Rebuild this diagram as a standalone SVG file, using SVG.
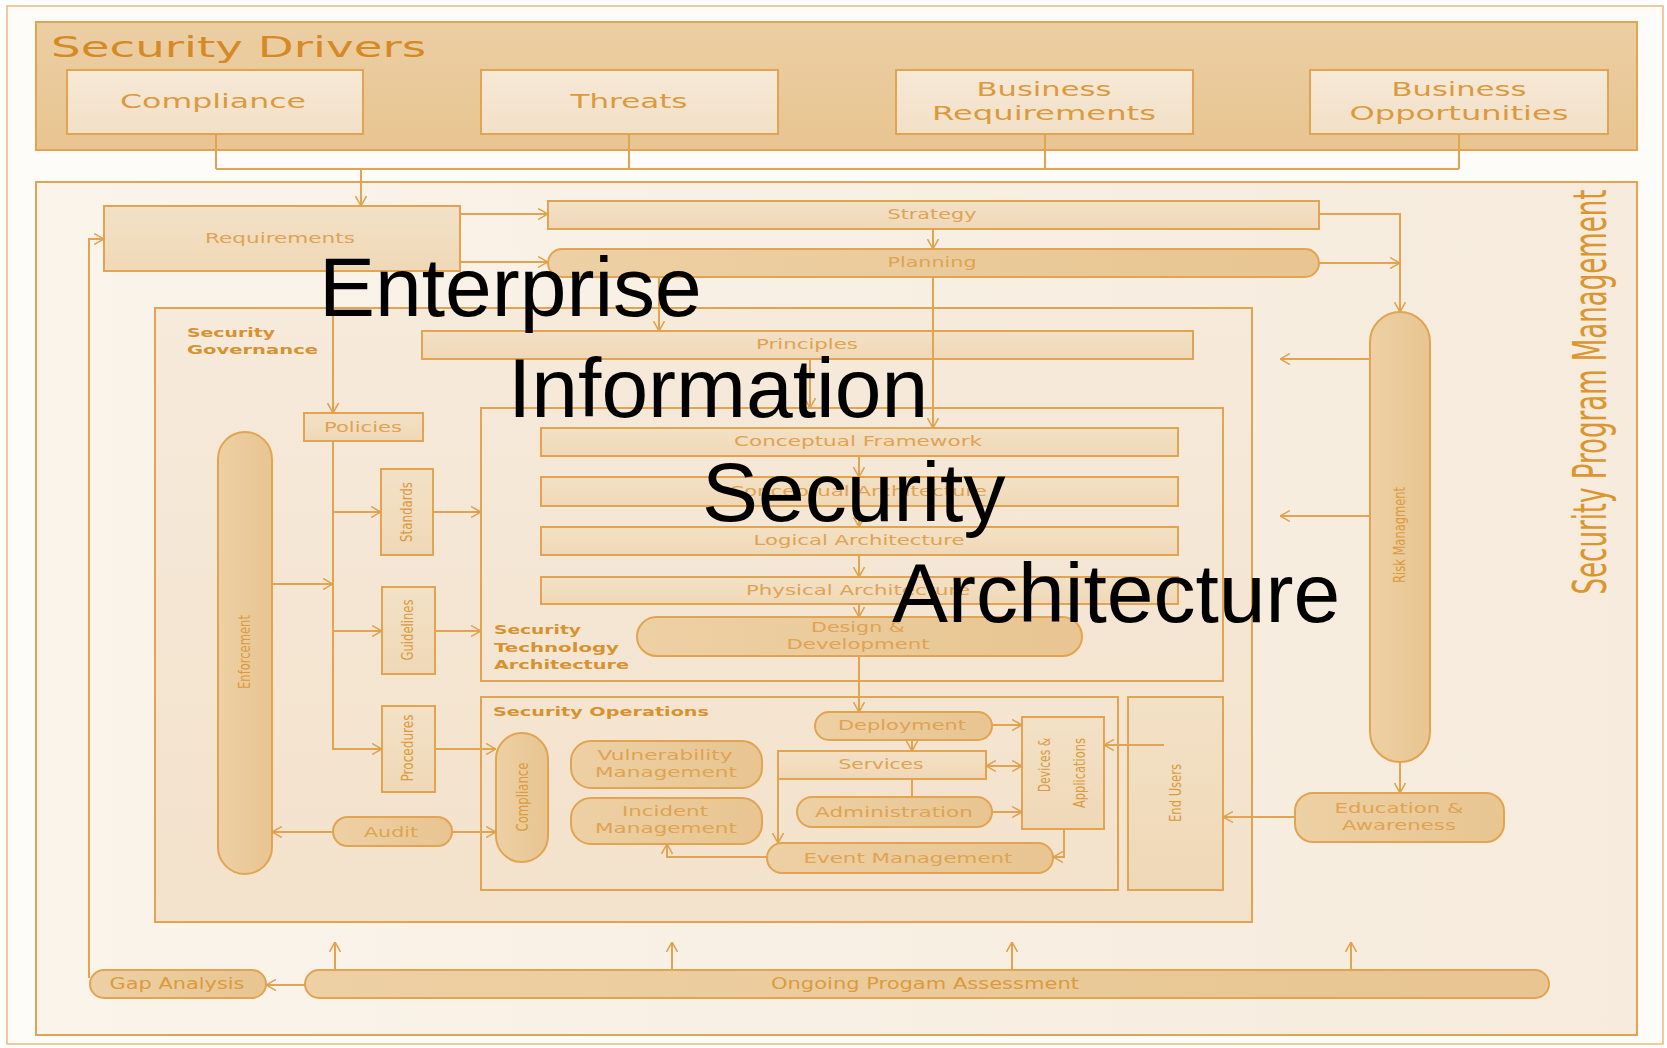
<svg xmlns="http://www.w3.org/2000/svg" width="1667" height="1048" viewBox="0 0 1667 1048">
<defs>
<linearGradient id="gBand" x1="0" y1="0" x2="0" y2="1"><stop offset="0" stop-color="#ebcea3"/><stop offset="1" stop-color="#e8c591"/></linearGradient>
<linearGradient id="gDrv" x1="0" y1="0" x2="0" y2="1"><stop offset="0" stop-color="#f6e9d7"/><stop offset="1" stop-color="#f2e0c6"/></linearGradient>
<linearGradient id="gSpm" x1="0" y1="0" x2="1" y2="0"><stop offset="0" stop-color="#faf4eb"/><stop offset="1" stop-color="#f6ebdc"/></linearGradient>
<linearGradient id="gGov" x1="0" y1="0" x2="0" y2="1"><stop offset="0" stop-color="#f6eadb"/><stop offset="1" stop-color="#f3e2cb"/></linearGradient>
<linearGradient id="gBox" x1="0" y1="0" x2="0" y2="1"><stop offset="0" stop-color="#f3e1c6"/><stop offset="1" stop-color="#efd8b6"/></linearGradient>
<linearGradient id="gPill" x1="0" y1="0" x2="1" y2="0"><stop offset="0" stop-color="#edd0a4"/><stop offset="1" stop-color="#e8c591"/></linearGradient>
<marker id="ah" viewBox="0 0 10 12" refX="10" refY="6" markerWidth="10" markerHeight="12" markerUnits="userSpaceOnUse" orient="auto-start-reverse">
<path d="M0,0.5 L10,6 L0,11.5" fill="none" stroke="#e0a04c" stroke-width="1.5"/>
</marker>
</defs>
<style>
.frm{stroke:#e2a450;stroke-width:2}
.box{fill:url(#gBox);stroke:#e2a450;stroke-width:2}
.pill{fill:url(#gPill);stroke:#e2a450;stroke-width:2}
.ln{fill:none;stroke:#e2a450;stroke-width:2}
.ar{marker-end:url(#ah)}
.t{font-family:"DejaVu Sans",Verdana,sans-serif;fill:#e0a352;text-anchor:middle;font-size:14px}
.h{font-family:"DejaVu Sans",Verdana,sans-serif;fill:#d8922f;font-weight:bold;font-size:13px}
.d{font-family:"DejaVu Sans",Verdana,sans-serif;fill:#dc9a3e;text-anchor:middle;font-size:19px}
.c{font-family:"DejaVu Sans Condensed","Liberation Sans",sans-serif;fill:#dc9a3e;text-anchor:middle;font-size:15px}
.big{font-family:"Liberation Sans",Arial,sans-serif;font-size:84px;fill:#000}
</style>

<rect x="7" y="6" width="1656" height="1038" fill="#fefcf9" stroke="#eab97a" stroke-width="1.5"/>

<g id="security-drivers">
<rect x="36" y="22" width="1601" height="128" fill="url(#gBand)" class="frm"/>
<text x="51" y="57" font-family="DejaVu Sans,Verdana,sans-serif" font-size="28" fill="#d68a25" textLength="375" lengthAdjust="spacingAndGlyphs">Security Drivers</text>
</g>
<g id="drv-compliance">
<rect x="67" y="70" width="296" height="64" fill="url(#gDrv)" class="frm"/>
<text class="d" x="213" y="108" textLength="186" lengthAdjust="spacingAndGlyphs">Compliance</text>
</g>
<g id="drv-threats">
<rect x="481" y="70" width="297" height="64" fill="url(#gDrv)" class="frm"/>
<text class="d" x="629" y="108" textLength="117" lengthAdjust="spacingAndGlyphs">Threats</text>
</g>
<g id="drv-business-requirements">
<rect x="896" y="70" width="297" height="64" fill="url(#gDrv)" class="frm"/>
<text class="d" x="1044" y="96" textLength="135" lengthAdjust="spacingAndGlyphs">Business</text>
<text class="d" x="1044" y="120" textLength="224" lengthAdjust="spacingAndGlyphs">Requirements</text>
</g>
<g id="drv-business-opportunities">
<rect x="1310" y="70" width="298" height="64" fill="url(#gDrv)" class="frm"/>
<text class="d" x="1459" y="96" textLength="135" lengthAdjust="spacingAndGlyphs">Business</text>
<text class="d" x="1459" y="120" textLength="219" lengthAdjust="spacingAndGlyphs">Opportunities</text>
</g>

<g id="security-program-management">
<rect x="36" y="182" width="1601" height="853" fill="url(#gSpm)" class="frm"/>
<text transform="translate(1606,392) rotate(-90)" font-family="DejaVu Sans Condensed,Liberation Sans,sans-serif" font-size="46" fill="#dc962f" text-anchor="middle" textLength="405" lengthAdjust="spacingAndGlyphs">Security Program Management</text>
</g>

<g id="security-governance">
<rect x="155" y="308" width="1097" height="614" fill="url(#gGov)" class="frm"/>
<text class="h" x="187" y="337" textLength="88" lengthAdjust="spacingAndGlyphs">Security</text>
<text class="h" x="187" y="354" textLength="131" lengthAdjust="spacingAndGlyphs">Governance</text>
</g>

<g id="security-technology-architecture">
<rect x="481" y="408" width="742" height="273" fill="none" class="frm"/>
<text class="h" x="494" y="634" textLength="87" lengthAdjust="spacingAndGlyphs">Security</text>
<text class="h" x="494" y="652" textLength="125" lengthAdjust="spacingAndGlyphs">Technology</text>
<text class="h" x="494" y="669" textLength="135" lengthAdjust="spacingAndGlyphs">Architecture</text>
</g>

<g id="security-operations">
<rect x="481" y="697" width="637" height="193" fill="none" class="frm"/>
<text class="h" x="493" y="716" textLength="216" lengthAdjust="spacingAndGlyphs">Security Operations</text>
</g>

<g id="end-users">
<rect x="1128" y="697" width="95" height="193" class="box"/>
<text class="c" transform="translate(1181,793) rotate(-90)" textLength="58" lengthAdjust="spacingAndGlyphs">End Users</text>
</g>

<g id="requirements">
<rect x="104" y="206" width="356" height="65" class="box"/>
<text class="t" x="280" y="243" textLength="150" lengthAdjust="spacingAndGlyphs">Requirements</text>
</g>
<g id="strategy">
<rect x="548" y="201" width="771" height="28" class="box"/>
<text class="t" x="932" y="219" textLength="89" lengthAdjust="spacingAndGlyphs">Strategy</text>
</g>
<g id="planning">
<rect x="548" y="249" width="771" height="28" rx="14" class="pill"/>
<text class="t" x="932" y="267" textLength="89" lengthAdjust="spacingAndGlyphs">Planning</text>
</g>
<g id="principles">
<rect x="422" y="331" width="771" height="28" class="box"/>
<text class="t" x="807" y="349" textLength="102" lengthAdjust="spacingAndGlyphs">Principles</text>
</g>
<g id="policies">
<rect x="304" y="413" width="119" height="28" class="box"/>
<text class="t" x="363" y="432" textLength="78" lengthAdjust="spacingAndGlyphs">Policies</text>
</g>
<g id="standards">
<rect x="381" y="469" width="52" height="86" class="box"/>
<text class="c" transform="translate(412,512) rotate(-90)" textLength="60" lengthAdjust="spacingAndGlyphs">Standards</text>
</g>
<g id="guidelines">
<rect x="382" y="587" width="53" height="87" class="box"/>
<text class="c" transform="translate(413,630) rotate(-90)" textLength="61" lengthAdjust="spacingAndGlyphs">Guidelines</text>
</g>
<g id="procedures">
<rect x="382" y="706" width="53" height="86" class="box"/>
<text class="c" transform="translate(413,748) rotate(-90)" textLength="67" lengthAdjust="spacingAndGlyphs">Procedures</text>
</g>
<g id="enforcement">
<rect x="218" y="432" width="54" height="442" rx="27" class="pill"/>
<text class="c" transform="translate(250,652) rotate(-90)" textLength="74" lengthAdjust="spacingAndGlyphs">Enforcement</text>
</g>
<g id="audit">
<rect x="333" y="817" width="119" height="29" rx="14.5" class="pill"/>
<text class="t" x="391" y="837" textLength="54" lengthAdjust="spacingAndGlyphs">Audit</text>
</g>

<g id="conceptual-framework">
<rect x="541" y="428" width="637" height="28" class="box"/>
<text class="t" x="858" y="446" textLength="248" lengthAdjust="spacingAndGlyphs">Conceptual Framework</text>
</g>
<g id="conceptual-architecture">
<rect x="541" y="477" width="637" height="29" class="box"/>
<text class="t" x="858" y="496" textLength="258" lengthAdjust="spacingAndGlyphs">Conceptual Architecture</text>
</g>
<g id="logical-architecture">
<rect x="541" y="527" width="637" height="28" class="box"/>
<text class="t" x="859" y="545" textLength="211" lengthAdjust="spacingAndGlyphs">Logical Architecture</text>
</g>
<g id="physical-architecture">
<rect x="541" y="577" width="637" height="27" class="box"/>
<text class="t" x="858" y="595" textLength="224" lengthAdjust="spacingAndGlyphs">Physical Architecture</text>
</g>
<g id="design-development">
<rect x="637" y="617" width="445" height="39" rx="19.5" class="pill"/>
<text class="t" x="858" y="632" textLength="94" lengthAdjust="spacingAndGlyphs">Design &amp;</text>
<text class="t" x="858" y="649" textLength="143" lengthAdjust="spacingAndGlyphs">Development</text>
</g>

<g id="ops-compliance">
<rect x="496" y="733" width="52" height="129" rx="26" class="pill"/>
<text class="c" transform="translate(528,797) rotate(-90)" textLength="69" lengthAdjust="spacingAndGlyphs">Compliance</text>
</g>
<g id="vulnerability-management">
<rect x="571" y="741" width="191" height="47" rx="20" class="pill"/>
<text class="t" x="665" y="760" textLength="135" lengthAdjust="spacingAndGlyphs">Vulnerability</text>
<text class="t" x="666" y="777" textLength="142" lengthAdjust="spacingAndGlyphs">Management</text>
</g>
<g id="incident-management">
<rect x="571" y="798" width="191" height="46" rx="20" class="pill"/>
<text class="t" x="665" y="816" textLength="86" lengthAdjust="spacingAndGlyphs">Incident</text>
<text class="t" x="666" y="833" textLength="142" lengthAdjust="spacingAndGlyphs">Management</text>
</g>
<g id="deployment">
<rect x="815" y="712" width="177" height="28" rx="14" class="pill"/>
<text class="t" x="902" y="730" textLength="128" lengthAdjust="spacingAndGlyphs">Deployment</text>
</g>
<g id="services">
<rect x="778" y="751" width="208" height="28" class="box"/>
<text class="t" x="881" y="769" textLength="85" lengthAdjust="spacingAndGlyphs">Services</text>
</g>
<g id="administration">
<rect x="797" y="797" width="195" height="30" rx="15" class="pill"/>
<text class="t" x="894" y="817" textLength="158" lengthAdjust="spacingAndGlyphs">Administration</text>
</g>
<g id="devices-applications">
<rect x="1022" y="717" width="82" height="112" class="box"/>
<text class="c" transform="translate(1050,765) rotate(-90)" textLength="54" lengthAdjust="spacingAndGlyphs">Devices &amp;</text>
<text class="c" transform="translate(1085,773) rotate(-90)" textLength="70" lengthAdjust="spacingAndGlyphs">Applications</text>
</g>
<g id="event-management">
<rect x="767" y="843" width="286" height="30" rx="15" class="pill"/>
<text class="t" x="908" y="863" textLength="209" lengthAdjust="spacingAndGlyphs">Event Management</text>
</g>

<g id="risk-management">
<rect x="1370" y="312" width="60" height="450" rx="30" class="pill"/>
<text class="c" font-size="13" transform="translate(1405,535) rotate(-90)" textLength="96" lengthAdjust="spacingAndGlyphs">Risk Managment</text>
</g>
<g id="education-awareness">
<rect x="1295" y="793" width="209" height="49" rx="18" class="pill"/>
<text class="t" x="1399" y="813" textLength="129" lengthAdjust="spacingAndGlyphs">Education &amp;</text>
<text class="t" x="1399" y="830" textLength="114" lengthAdjust="spacingAndGlyphs">Awareness</text>
</g>
<g id="gap-analysis">
<rect x="90" y="970" width="176" height="28" rx="14" class="pill"/>
<text class="c" x="177" y="989" textLength="135" lengthAdjust="spacingAndGlyphs">Gap Analysis</text>
</g>
<g id="ongoing-program-assessment">
<rect x="305" y="970" width="1244" height="28" rx="14" class="pill"/>
<text class="c" x="925" y="989" textLength="308" lengthAdjust="spacingAndGlyphs">Ongoing Progam Assessment</text>
</g>

<g id="connectors">
<path class="ln" d="M216,134 V169 M629,134 V169 M1045,134 V169 M1459,134 V169 M216,169 H1459"/>
<path class="ln ar" d="M361,169 V206"/>
<path class="ln ar" d="M460,214 H548"/>
<path class="ln ar" d="M460,262 H548"/>
<path class="ln ar" d="M933,229 V249"/>
<path class="ln ar" d="M1319,214 H1400 V312"/>
<path class="ln ar" d="M1319,263 H1400"/>
<path class="ln ar" d="M659,277 V331"/>
<path class="ln ar" d="M933,277 V428"/>
<path class="ln ar" d="M810,359 V408"/>
<path class="ln ar" d="M333,271 V413"/>
<path class="ln ar" d="M333,441 V749 H382"/>
<path class="ln ar" d="M333,512 H381"/>
<path class="ln ar" d="M333,631 H382"/>
<path class="ln ar" d="M272,584 H333"/>
<path class="ln ar" d="M433,512 H481"/>
<path class="ln ar" d="M435,631 H481"/>
<path class="ln ar" d="M435,749 H496"/>
<path class="ln ar" d="M333,832 H272"/>
<path class="ln ar" d="M452,832 H496"/>
<path class="ln ar" d="M859,456 V477"/>
<path class="ln ar" d="M859,506 V527"/>
<path class="ln ar" d="M859,555 V577"/>
<path class="ln ar" d="M859,604 V617"/>
<path class="ln ar" d="M859,656 V712"/>
<path class="ln ar" d="M992,725 H1022"/>
<path class="ln ar" d="M912,740 V751"/>
<path class="ln ar" d="M986,766 H1022" marker-start="url(#ah)"/>
<path class="ln" d="M912,779 V797"/>
<path class="ln ar" d="M778,779 V843"/>
<path class="ln ar" d="M992,812 H1022"/>
<path class="ln ar" d="M1064,829 V857 H1053"/>
<path class="ln ar" d="M767,857 H667 V844"/>
<path class="ln ar" d="M1164,745 H1104"/>
<path class="ln ar" d="M1370,359 H1280"/>
<path class="ln ar" d="M1370,516 H1280"/>
<path class="ln ar" d="M1400,762 V793"/>
<path class="ln ar" d="M1295,817 H1223"/>
<path class="ln ar" d="M335,970 V942"/>
<path class="ln ar" d="M672,970 V942"/>
<path class="ln ar" d="M1012,970 V942"/>
<path class="ln ar" d="M1351,970 V942"/>
<path class="ln ar" d="M305,985 H266"/>
<path class="ln ar" d="M89,978 V239 H104"/>
</g>

<g id="title-overlay">
<text class="big" x="319" y="316">Enterprise</text>
<text class="big" x="508" y="417">Information</text>
<text class="big" x="702" y="521">Security</text>
<text class="big" x="892" y="622">Architecture</text>
</g>
</svg>
